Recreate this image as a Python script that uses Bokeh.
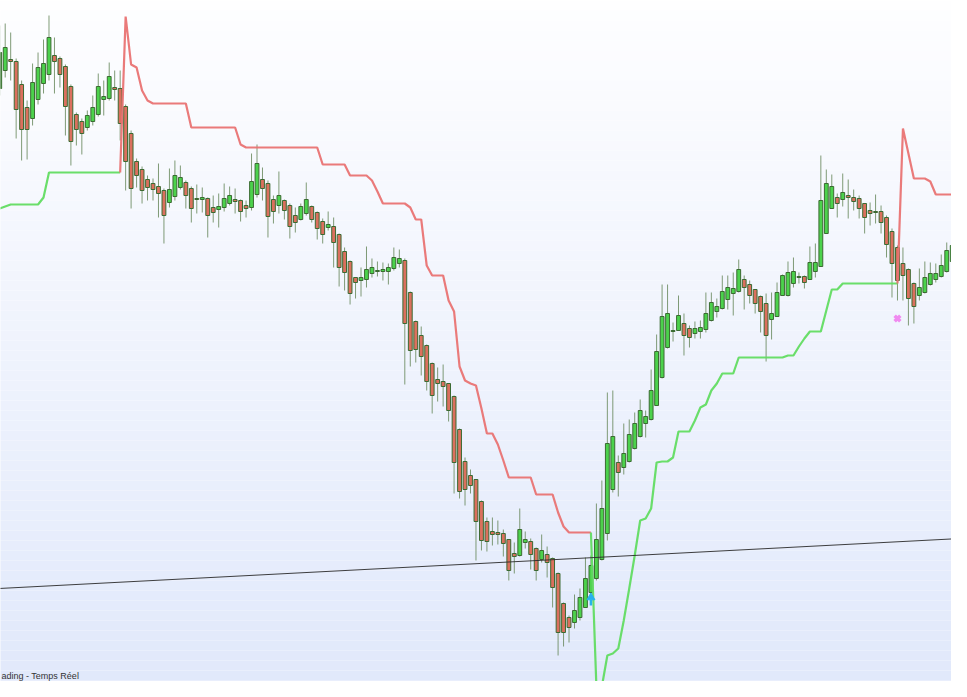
from bokeh.plotting import figure
from bokeh.models import Range1d, Label
from bokeh.embed import file_html
from bokeh.resources import INLINE

# ---- OHLC data (one candle per bar index) ----
opens = [912,930,941,939,916,893,882,901,917,926,
         945,942,934,914,886,879,873,879,886,901,
         902,913,912,894,867,839,831,821,817,814,
         810,798,804,813,818,812,802,801,802,793,
         791,793,797,801,800,795,793,806,821,817,
         801,795,800,795,785,781,787,794,788,779,
         773,774,766,749,739,723,720,721,727,729,
         729,729,732,737,740,708,679,665,655,637,
         621,619,617,604,571,539,525,521,499,479,
         469,468,467,461,447,445,458,459,452,441,
         446,442,427,397,383,378,383,393,408,422,
         441,467,511,538,533,539,552,564,577,581,
         595,623,653,669,670,677,672,667,669,671,
         680,689,692,701,707,709,721,716,711,704,
         697,681,684,705,705,717,723,724,721,729,
         734,767,792,803,801,805,803,802,797,790,
         789,789,783,769,753,737,731,717,705,708,
         716,721,724,729,739,748,756,764]
closes = [948,953,939,891,871,871,918,933,937,963,
          939,926,894,859,871,867,885,893,914,904,
          924,911,877,839,812,825,810,813,811,807,
          785,811,825,823,805,792,801,803,785,788,
          794,802,805,799,789,792,819,837,812,784,
          789,805,790,774,778,794,801,781,772,766,
          776,758,733,728,707,718,723,731,733,730,
          731,733,743,742,677,650,651,644,619,605,
          617,614,590,538,509,511,515,479,460,459,
          466,466,457,430,444,471,461,446,430,450,
          438,413,368,368,373,390,403,422,435,461,
          492,557,564,528,547,566,577,590,584,610,
          649,684,687,670,685,665,663,672,673,687,
          698,694,709,713,712,731,713,705,697,689,
          665,687,708,725,728,729,724,718,738,738,
          800,817,814,797,808,803,799,792,783,787,
          788,778,756,737,720,725,702,694,713,723,
          727,727,735,750,755,764,774,730]
highs = [975,977,968,942,920,900,937,948,961,985,
         963,944,936,916,888,882,890,905,927,920,
         938,930,930,896,870,842,834,825,822,837,
         812,832,840,835,820,814,816,813,803,805,
         807,817,814,812,801,800,847,856,833,820,
         805,829,801,797,793,797,818,795,789,782,
         789,783,767,753,740,723,733,754,742,739,
         738,737,753,751,742,709,680,674,656,638,
         633,636,617,605,572,543,531,521,500,483,
         483,480,471,461,458,492,469,462,453,466,
         454,443,428,398,385,406,412,443,445,497,
         520,608,610,545,577,581,588,601,590,631,
         666,716,716,678,705,687,675,679,680,708,
         708,702,725,725,728,741,725,720,711,705,
         707,708,718,726,739,743,728,725,754,757,
         845,831,826,807,827,821,811,805,797,798,
         806,795,785,772,755,753,732,718,732,739,
         738,737,746,758,765,774,785,767]
lows = [905,923,920,862,840,841,875,896,907,920,
        907,913,865,835,855,846,870,875,884,885,
        900,900,860,810,792,813,797,800,800,783,
        757,793,800,811,792,778,787,788,763,778,
        773,789,795,787,779,783,790,803,800,763,
        777,787,781,762,768,780,785,778,761,757,
        770,733,714,710,696,702,704,713,723,724,
        720,716,730,733,616,634,638,625,610,587,
        599,594,579,507,502,495,507,440,450,449,
        455,456,444,420,427,444,452,431,420,438,
        423,393,345,354,358,372,380,393,407,420,
        440,460,508,504,526,538,551,563,563,580,
        595,622,652,659,670,645,653,662,662,668,
        679,683,691,691,685,708,691,697,687,668,
        639,661,684,705,704,713,717,712,721,723,
        734,767,792,783,794,782,790,782,767,775,
        777,767,743,703,700,700,675,677,700,707,
        715,718,723,728,738,747,755,728]

# ---- trailing stop (supertrend) value per bar, direction flips ----
st_value = [792,794,796,796,796,796,796,796,803,828,
            828,828,828,828,828,828,828,828,828,828,
            828,828,828,984,936,933,910,900,897,897,
            897,897,897,897,897,873,873,873,873,873,
            873,873,873,873,856,853,853,853,853,853,
            853,853,853,853,853,853,853,853,853,836,
            836,836,836,836,825,825,825,825,820,809,
            797,797,797,797,797,793,781,781,735,725,
            725,725,700,689,634,620,617,615,592,567,
            567,556,540,523,523,523,523,523,506,506,
            506,506,488,474,468,468,468,468,468,314,
            314,345,347,352,380,412,445,480,482,492,
            538,539,539,543,569,569,569,580,593,596,
            610,617,627,627,627,643,643,643,643,643,
            643,643,643,643,645,645,654,662,669,669,
            669,690,711,711,717,717,717,717,717,717,
            717,717,717,717,717,872,847,822,822,822,
            819,806,806,806,806,806,806,806]
st_flips = [23, 109, 165]

# ---- drawn trendline, signals ----
trend_idx = [-5, 185]
trend_val = [410.6, 464.7]
buy_idx = [108]
buy_price = [400]
sell_idx = [164]
sell_price = [682]

status_text = "ading - Temps Réel"

idx = list(range(len(opens)))

p = figure(width=951, height=681, output_backend="svg", toolbar_location=None,
           x_range=Range1d(0.141, 173.87), y_range=Range1d(319, 1000),
           x_axis_location=None, y_axis_location=None, min_border=0)
p.grid.visible = False
p.outline_line_color = None
p.background_fill_color = "#FFFFFF"
p.border_fill_color = "#FFFFFF"

# background vertical gradient (white -> pale blue)
top_c = (254, 254, 255)
bot_c = (224, 232, 251)
n = 70
b_bottom, b_top, b_col = [], [], []
for k in range(n):
    t = 1000 - k * 10
    b = t - 10
    f = (k + 0.5) / n
    c = tuple(int(round(top_c[j] + (bot_c[j] - top_c[j]) * f)) for j in range(3))
    b_top.append(t)
    b_bottom.append(b)
    b_col.append("#%02x%02x%02x" % c)
p.quad(left=-20, right=200, bottom=b_bottom, top=b_top, fill_color=b_col, line_color=None)

# wicks
p.segment(x0=idx, y0=lows, x1=idx, y1=highs, line_color="#6A8A5E", line_width=1, line_alpha=0.85)

# bodies
up_i = [i for i in idx if closes[i] >= opens[i]]
dn_i = [i for i in idx if closes[i] < opens[i]]
p.vbar(x=up_i, width=0.7,
       top=[closes[i] for i in up_i], bottom=[opens[i] for i in up_i],
       fill_color="#4CD24C", line_color="#3B6A32", line_width=1)
p.vbar(x=dn_i, width=0.7,
       top=[opens[i] for i in dn_i], bottom=[closes[i] for i in dn_i],
       fill_color="#DB705E", line_color="#3B6A32", line_width=1)

# trailing stop lines
starts = [0] + st_flips
ends = st_flips + [len(st_value)]
for k, (s, e) in enumerate(zip(starts, ends)):
    xs = list(range(s, e))
    ys = st_value[s:e]
    if k > 0:
        xs = [s - 1] + xs
        ys = [st_value[s - 1]] + ys
    col = "#62DC62" if k % 2 == 0 else "#E97373"
    p.line(xs, ys, line_color=col, line_width=2.2, line_alpha=0.95)

# trendline
p.line(trend_idx, trend_val, line_color="#2A2A2A", line_width=1, line_alpha=0.9)

# buy arrow (cyan) and sell mark (pink)
p.scatter(x=buy_idx, y=[v + 3 for v in buy_price], marker="triangle", size=8,
          fill_color="#27B2EC", line_color="#27B2EC")
p.rect(x=buy_idx, y=[v - 2 for v in buy_price], width=2.5, height=6,
       width_units="screen", height_units="screen", fill_color="#27B2EC", line_color=None)
p.scatter(x=sell_idx, y=sell_price, marker="x", size=8, line_width=3.5, line_color="#F08AF0")

p.add_layout(Label(x=1, y=1, x_units="screen", y_units="screen", text=status_text,
                   text_font="Liberation Sans", text_font_size="9px", text_color="#333333",
                   text_baseline="bottom"))

open("out.html", "w").write(file_html(p, INLINE))
